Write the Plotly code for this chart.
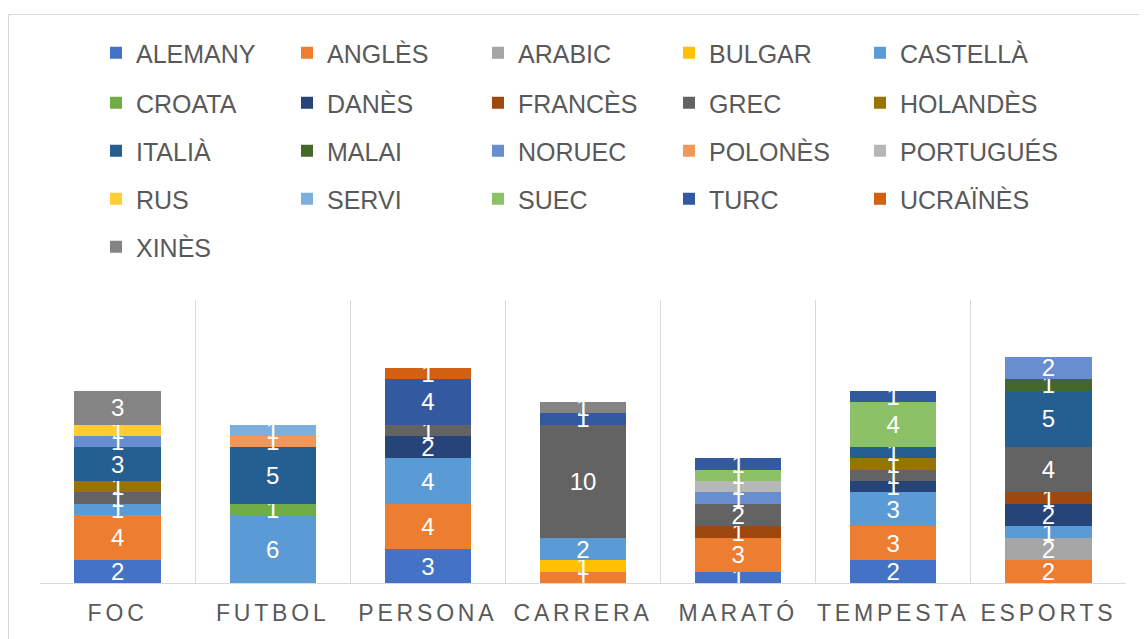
import plotly.graph_objects as go

categories = ["FOC", "FUTBOL", "PERSONA", "CARRERA", "MARATÓ", "TEMPESTA", "ESPORTS"]

series_names = ["ALEMANY", "ANGLÈS", "ARABIC", "BULGAR", "CASTELLÀ",
                "CROATA", "DANÈS", "FRANCÈS", "GREC", "HOLANDÈS",
                "ITALIÀ", "MALAI", "NORUEC", "POLONÈS", "PORTUGUÉS",
                "RUS", "SERVI", "SUEC", "TURC", "UCRAÏNÈS",
                "XINÈS"]

alemany = [2, 0, 3, 0, 1, 2, 0]
angles = [4, 0, 4, 1, 3, 3, 2]
arabic = [0, 0, 0, 0, 0, 0, 2]
bulgar = [0, 0, 0, 1, 0, 0, 0]
castella = [1, 6, 4, 2, 0, 3, 1]
croata = [0, 1, 0, 0, 0, 0, 0]
danes = [0, 0, 2, 0, 0, 1, 2]
frances = [0, 0, 0, 0, 1, 0, 1]
grec = [1, 0, 1, 10, 2, 1, 4]
holandes = [1, 0, 0, 0, 0, 1, 0]
italia = [3, 5, 0, 0, 0, 1, 5]
malai = [0, 0, 0, 0, 0, 0, 1]
noruec = [1, 0, 0, 0, 1, 0, 2]
polones = [0, 1, 0, 0, 0, 0, 0]
portugues = [0, 0, 0, 0, 1, 0, 0]
rus = [1, 0, 0, 0, 0, 0, 0]
servi = [0, 1, 0, 0, 0, 0, 0]
suec = [0, 0, 0, 0, 1, 4, 0]
turc = [0, 0, 4, 1, 1, 1, 0]
ucraines = [0, 0, 1, 0, 0, 0, 0]
xines = [3, 0, 0, 1, 0, 0, 0]

series_values = [alemany, angles, arabic, bulgar, castella, croata, danes,
                 frances, grec, holandes, italia, malai, noruec, polones,
                 portugues, rus, servi, suec, turc, ucraines, xines]

colors = ["#4472C4", "#ED7D31", "#A5A5A5", "#FFC000", "#5B9BD5",
          "#70AD47", "#264478", "#9E480E", "#636363", "#997300",
          "#255E91", "#43682B", "#698ED0", "#F1975A", "#B7B7B7",
          "#FFCD33", "#7CAFDD", "#8CC168", "#335AA1", "#D26012",
          "#848484"]

FONT = "Liberation Sans, Arial, Helvetica, sans-serif"
TXT = "#595959"

# page has an 8px body margin: figure occupies page (8,8)-(1147,639)
OFF = 8
W, H = 1147 - OFF, 639 - OFF
ML, MR, MT, MB = 40 - OFF, 21, 300 - OFF, 56
PW = W - ML - MR
PH = H - MT - MB

def px_to_paper_x(px):  # px in page coordinates
    return (px - OFF - ML) / PW

def px_to_paper_y(py):
    return (H - MB - (py - OFF)) / PH

NCOL = 5
COL_STEP = 191
LEG_X0 = 96
row_y = [53, 103, 151, 199, 247]

legend_keys = []
legend_defs = {}
count = 0
def new_key():
    global count
    count += 1
    return "legend" if count == 1 else f"legend{count}"

legend_base = dict(
    orientation="h", xanchor="left", yanchor="middle",
    font=dict(size=25, color=TXT, family=FONT), traceorder="normal",
    bgcolor="rgba(0,0,0,0)", itemwidth=30, itemclick=False, itemdoubleclick=False,
)
nrows = (len(series_names) + NCOL - 1) // NCOL
for r in range(nrows):
    k_main = new_key()
    legend_defs[k_main] = dict(x=px_to_paper_x(LEG_X0), y=px_to_paper_y(row_y[r]),
                               entrywidth=146, entrywidthmode="pixels", **legend_base)
    k_last = None
    for c in range(NCOL):
        i = r * NCOL + c
        if i >= len(series_names):
            break
        if c < NCOL - 1:
            legend_keys.append(k_main)
        else:
            if k_last is None:
                k_last = new_key()
                legend_defs[k_last] = dict(x=px_to_paper_x(LEG_X0 + COL_STEP * (NCOL - 1)),
                                           y=px_to_paper_y(row_y[r]), **legend_base)
            legend_keys.append(k_last)

fig = go.Figure()
for i, (name, vals, col) in enumerate(zip(series_names, series_values, colors)):
    yv = [v if v else None for v in vals]
    fig.add_trace(go.Bar(
        name=name, x=categories, y=yv,
        marker=dict(color=col, line=dict(width=0)),
        texttemplate="%{y}", textposition="inside",
        insidetextanchor="middle", textangle=0,
        textfont=dict(color="white", size=24, family=FONT),
        legend=legend_keys[i],
    ))

fig.update_layout(
    width=W, height=H,
    margin=dict(l=ML, r=MR, t=MT, b=MB),
    barmode="stack", bargap=0.444,
    plot_bgcolor="white", paper_bgcolor="white",
    font=dict(family=FONT, color=TXT),
    uniformtext=dict(mode="show", minsize=24),
    showlegend=True,
    xaxis=dict(
        type="category", showline=True, linecolor="#d9d9d9", linewidth=1,
        showgrid=True, gridcolor="#d9d9d9", gridwidth=1, tickson="boundaries",
        ticks="", tickfont=dict(size=23, color=TXT, family=FONT),
        ticklabelstandoff=9, fixedrange=True,
    ),
    yaxis=dict(range=[0, 25], visible=False, showgrid=False, fixedrange=True),
    shapes=[dict(
        type="rect", xref="paper", yref="paper",
        x0=px_to_paper_x(8.5), x1=px_to_paper_x(1160),
        y0=px_to_paper_y(660), y1=px_to_paper_y(14.5),
        line=dict(color="#d9d9d9", width=1), fillcolor="rgba(0,0,0,0)", layer="below",
    )],
    **legend_defs,
)

post = """
var gd = document.getElementById('{plot_id}');
function spaceTicks(){
  gd.querySelectorAll('.xtick text').forEach(function(t){ t.style.letterSpacing = '3.8px'; });
}
spaceTicks();
if (gd && gd.on) { gd.on('plotly_afterplot', spaceTicks); }
"""

fig.write_html("out.html", post_script=post)
